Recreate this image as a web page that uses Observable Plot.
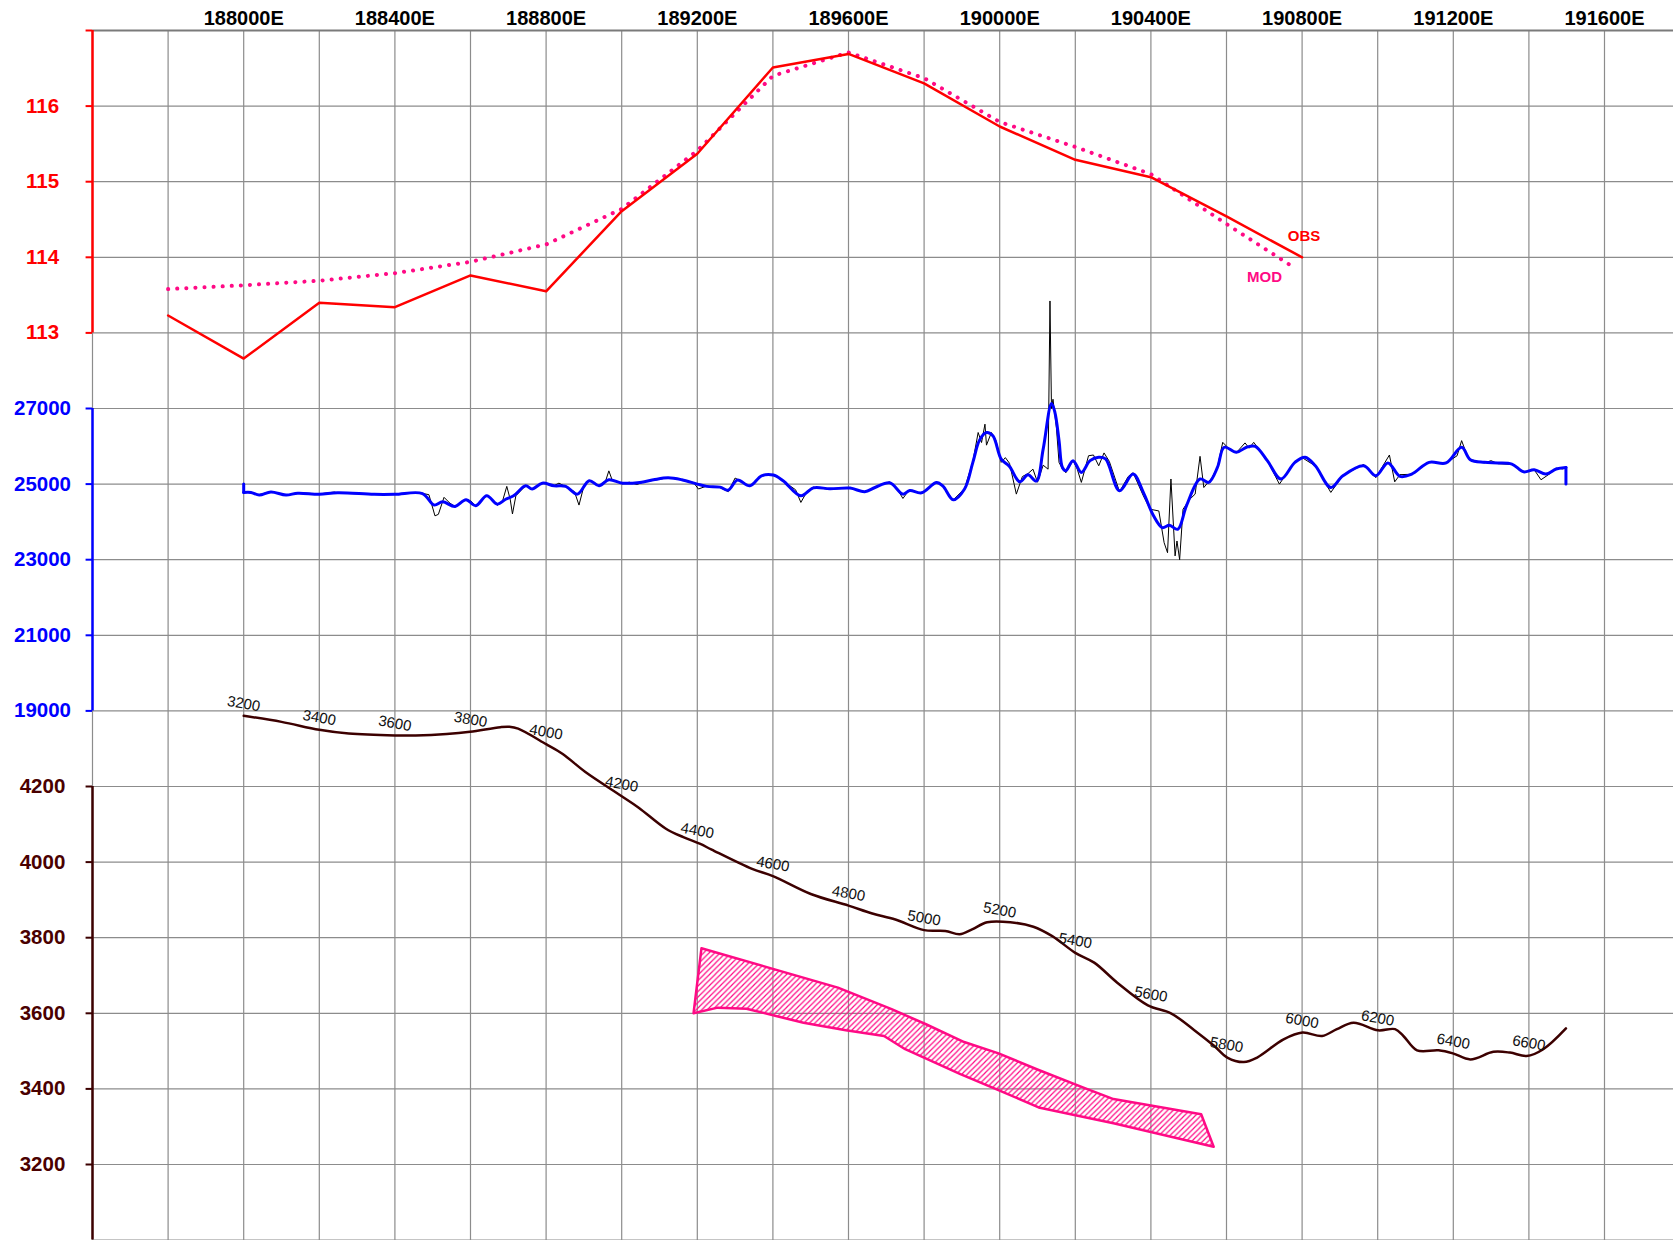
<!DOCTYPE html>
<html>
<head>
<meta charset="utf-8">
<script src="https://cdn.jsdelivr.net/npm/d3@7"></script>
<script src="https://cdn.jsdelivr.net/npm/@observablehq/plot@0.6"></script>
<style>
  html, body { margin: 0; padding: 0; background: #ffffff; }
  #chart svg { display: block; }
</style>
</head>
<body>
<div id="chart"></div>
<script>
// ---------------- DATA ----------------
// Easting grid / tick labels
const eastGrid = [187600, 187800, 188000, 188200, 188400, 188600, 188800, 189000, 189200, 189400,
                  189600, 189800, 190000, 190200, 190400, 190600, 190800, 191000, 191200, 191400, 191600];
const eastLabels = [188000, 188400, 188800, 189200, 189600, 190000, 190400, 190800, 191200, 191600];

// Left axis ticks (three stacked axes)
const gravTicks = [117, 116, 115, 114, 113];
const gravLabels = [116, 115, 114, 113];
const magTicks = [27000, 25000, 23000, 21000, 19000];
const elevTicks = [4200, 4000, 3800, 3600, 3400, 3200];
const elevGridExtra = [3000];

// Gravity profile (mGal): observed and modelled
const gravEast = [187800, 188000, 188200, 188400, 188600, 188800, 189000, 189200, 189400, 189600,
                  189800, 190000, 190200, 190400, 190600, 190800];
const gravObs = [113.23, 112.66, 113.40, 113.34, 113.76, 113.55, 114.61, 115.37, 116.51, 116.69,
                 116.30, 115.73, 115.29, 115.06, 114.54, 114.00];
const modEast = [187800, 188000, 188200, 188400, 188600, 188800, 189000, 189200, 189400, 189600,
                 189800, 190000, 190200, 190400, 190600, 190780];
const gravMod = [113.58, 113.63, 113.69, 113.79, 113.94, 114.17, 114.64, 115.41, 116.40, 116.71,
                 116.37, 115.79, 115.46, 115.10, 114.44, 113.86];

// Magnetic profile (nT): smoothed (blue); first and last points are the end ticks
const magEast = [188000, 188000, 188019, 188041, 188072, 188112, 188143, 188200, 188248, 188345,
  188400, 188473, 188504, 188526, 188559, 188588, 188614, 188643, 188671, 188693,
  188714, 188746, 188763, 188790, 188821, 188852, 188883, 188914, 188940, 188966,
  189002, 189048, 189084, 189123, 189159, 189200, 189225, 189260, 189282, 189306,
  189339, 189370, 189401, 189427, 189474, 189507, 189551, 189604, 189643, 189670,
  189709, 189744, 189762, 189793, 189833, 189850, 189877, 189907, 189929, 189947,
  189965, 189982, 190004, 190026, 190053, 190075, 190097, 190115, 190137, 190146,
  190157, 190166, 190175, 190194, 190216, 190239, 190262, 190280, 190317, 190353,
  190380, 190407, 190430, 190449, 190471, 190494, 190530, 190553, 190576, 190594,
  190626, 190653, 190676, 190708, 190744, 190781, 190808, 190835, 190876, 190908,
  190963, 190995, 191027, 191059, 191090, 191136, 191181, 191222, 191245, 191282,
  191318, 191355, 191386, 191414, 191445, 191472, 191498, 191498];
const magSmooth = [25000, 24780, 24780, 24710, 24790, 24710, 24760, 24730, 24770, 24730,
  24730, 24750, 24445, 24530, 24410, 24585, 24430, 24690, 24470, 24600,
  24690, 24955, 24870, 25025, 24955, 24940, 24735, 25090, 24955, 25115,
  25025, 25045, 25115, 25167, 25115, 25000, 24940, 24920, 24840, 25105,
  24955, 25220, 25240, 25090, 24690, 24900, 24875, 24895, 24800, 24910,
  25035, 24735, 24830, 24770, 25045, 24945, 24585, 24870, 25575, 26170,
  26365, 26280, 25660, 25465, 25060, 25245, 25080, 25925, 27130, 26900,
  26150, 25440, 25355, 25620, 25310, 25620, 25710, 25665, 24825, 25265,
  24780, 24160, 23850, 23910, 23805, 24425, 25135, 25045, 25440, 25975,
  25840, 25975, 26000, 25620, 25135, 25575, 25710, 25485, 24910, 25220,
  25485, 25220, 25560, 25205, 25265, 25575, 25560, 25975, 25645, 25575,
  25560, 25530, 25325, 25380, 25265, 25400, 25440, 25000];

// Magnetic profile (nT): raw readings (thin black)
const magRawEast = [188000, 188020, 188040, 188072, 188110, 188145, 188200, 188240, 188250, 188345,
  188400, 188470, 188490, 188506, 188515, 188530, 188545, 188560, 188588, 188600,
  188614, 188643, 188660, 188671, 188685, 188696, 188705, 188711, 188720, 188746,
  188763, 188790, 188821, 188834, 188852, 188875, 188887, 188900, 188914, 188940,
  188958, 188966, 188975, 189002, 189020, 189040, 189060, 189084, 189123, 189159,
  189190, 189203, 189225, 189260, 189282, 189300, 189315, 189339, 189370, 189401,
  189427, 189460, 189474, 189490, 189507, 189551, 189604, 189643, 189670, 189709,
  189730, 189744, 189760, 189793, 189833, 189850, 189877, 189907, 189929, 189943,
  189952, 189961, 189965, 189978, 189990, 190004, 190015, 190026, 190044, 190060,
  190075, 190088, 190100, 190115, 190128, 190133, 190137, 190141, 190150, 190157,
  190166, 190175, 190194, 190205, 190216, 190235, 190248, 190262, 190276, 190290,
  190317, 190340, 190353, 190380, 190398, 190421, 190435, 190444, 190453, 190464,
  190469, 190476, 190485, 190503, 190517, 190530, 190540, 190562, 190576, 190590,
  190610, 190626, 190649, 190660, 190672, 190708, 190740, 190781, 190800, 190835,
  190876, 190908, 190940, 190963, 190995, 191031, 191045, 191059, 191090, 191136,
  191181, 191210, 191222, 191235, 191245, 191282, 191300, 191318, 191355, 191386,
  191414, 191432, 191454, 191472, 191490];
const magRaw = [24790, 24770, 24720, 24800, 24700, 24770, 24740, 24790, 24760, 24730,
  24740, 24760, 24720, 24160, 24200, 24650, 24500, 24400, 24600, 24560,
  24420, 24700, 24560, 24440, 24560, 24940, 24600, 24210, 24690, 24960,
  24860, 25030, 24960, 25025, 24930, 24800, 24445, 24950, 25100, 24950,
  25100, 25350, 25100, 25010, 25050, 24990, 25060, 25100, 25170, 25110,
  25040, 24870, 24950, 24910, 24800, 25160, 25080, 24940, 25220, 25250,
  25080, 24850, 24515, 24800, 24920, 24860, 24900, 24790, 24920, 25060,
  24850, 24620, 24840, 24750, 25060, 24930, 24580, 24880, 25600, 26365,
  26100, 26585, 26030, 26365, 26150, 25575, 25700, 25550, 24735, 25200,
  25280, 25395, 25050, 25500, 25395, 29845, 27000, 27245, 26500, 25575,
  25400, 25300, 25620, 25400, 25045, 25750, 25770, 25485, 25825, 25600,
  24800, 25200, 25300, 24690, 24335, 24290, 23450, 23185, 25135, 23100,
  23495, 23000, 24335, 24600, 24735, 25735, 24910, 25175, 25450, 26105,
  25900, 25830, 26090, 25950, 26105, 25620, 25000, 25600, 25700, 25480,
  24780, 25230, 25400, 25520, 25170, 25770, 25060, 25250, 25260, 25580,
  25560, 25750, 26150, 25800, 25650, 25560, 25620, 25540, 25520, 25320,
  25380, 25115, 25265, 25420, 25400];

// Topography (m)
const elevEast = [188000, 188100, 188200, 188278, 188400, 188455, 188537, 188599, 188679, 188703,
  188726, 188800, 188844, 188903, 188999, 189045, 189116, 189163, 189208, 189238,
  189345, 189400, 189502, 189600, 189663, 189724, 189800, 189856, 189894, 189927,
  189967, 190028, 190089, 190139, 190200, 190250, 190311, 190392, 190453, 190514,
  190567, 190602, 190646, 190681, 190751, 190801, 190853, 190892, 190936, 191001,
  191046, 191068, 191104, 191161, 191199, 191245, 191306, 191350, 191394, 191438, 191498];
const elevVal = [4387, 4371, 4350, 4340, 4335, 4335, 4339, 4345, 4357, 4358,
  4353, 4312, 4286, 4239, 4175, 4144, 4089, 4066, 4048, 4033,
  3982, 3963, 3915, 3885, 3864, 3848, 3820, 3818, 3809, 3822,
  3841, 3841, 3829, 3804, 3760, 3734, 3681, 3621, 3600, 3556,
  3514, 3483, 3471, 3483, 3531, 3549, 3540, 3558, 3575, 3555,
  3558, 3540, 3502, 3502, 3494, 3478, 3498, 3496, 3487, 3505, 3560];

// Chainage labels along the profile
const chainEast = [188000, 188200, 188400, 188600, 188800, 189000, 189200, 189400, 189600,
  189800, 190000, 190200, 190400, 190600, 190800, 191000, 191200, 191400];
const chainLabels = [3200, 3400, 3600, 3800, 4000, 4200, 4400, 4600, 4800,
  5000, 5200, 5400, 5600, 5800, 6000, 6200, 6400, 6600];

// Model body polygon (easting, elevation)
const bodyEast = [189211, 189572, 189714, 189805, 189906, 189997, 190098, 190220, 190301, 190533,
  190566, 190301, 190103, 189992, 189896, 189750, 189694, 189593, 189481, 189330, 189254, 189190];
const bodyElev = [3772, 3668, 3611, 3571, 3524, 3494, 3452, 3404, 3373, 3333,
  3247, 3309, 3351, 3399, 3439, 3505, 3540, 3555, 3575, 3612, 3615, 3600];

// ---------------- STYLE ----------------
const RED = "#FF0000", PINK = "#FF0A85", BLUE = "#0000FF", BROWN = "#3C0000", GRID = "#8c8c8c";
const FONT = "'Liberation Sans', Arial, Helvetica, sans-serif";

// stacked-axis conversion into common grid units (one unit = one grid row)
const gU = g => 117 - g;
const mU = m => 5 + (27000 - m) / 2000;
const eU = e => 10 + (4200 - e) / 200;

const idx = a => a.map((_, i) => i);
const elevAt = x => {
  const i = Math.max(0, Math.min(elevEast.length - 2, d3.bisectRight(elevEast, x) - 1));
  const t = (x - elevEast[i]) / (elevEast[i + 1] - elevEast[i]);
  return elevVal[i] + t * (elevVal[i + 1] - elevVal[i]);
};

const nMag = magEast.length;
const magBody = idx(magEast).slice(1, nMag - 1);   // smooth part
const magEnds = [[0, 1], [nMag - 2, nMag - 1]];    // straight end ticks

const X0 = 187600, X1 = 187600 + (1673 - 92) / 0.378;
const gridUnits = [...gravTicks.map(gU), ...magTicks.map(mU), ...elevTicks.map(eU), ...elevGridExtra.map(eU)];

const chart = Plot.plot({
  width: 1673,
  height: 1240,
  marginLeft: 92,
  marginRight: 0,
  marginTop: 30,
  marginBottom: 0,
  style: {fontFamily: FONT, background: "#fff", overflow: "visible"},
  x: {domain: [X0, X1], range: [92, 1673], axis: null},
  y: {domain: [0, 16], range: [30, 1239.6], axis: null},
  marks: [
    // grid
    Plot.ruleY(gridUnits, {stroke: GRID, strokeWidth: 1.2}),
    Plot.ruleX(eastGrid, {stroke: GRID, strokeWidth: 1.2}),
    Plot.ruleY([0], {stroke: "#7a7a7a", strokeWidth: 2}),

    // model body
    Plot.line(idx(bodyEast), {x: i => bodyEast[i], y: i => eU(bodyElev[i]), curve: "linear-closed",
      stroke: PINK, strokeWidth: 2.5, fill: "url(#hatch)", strokeLinejoin: "round"}),

    // topography
    Plot.line(idx(elevEast), {x: i => elevEast[i], y: i => eU(elevVal[i]), curve: "catmull-rom",
      stroke: BROWN, strokeWidth: 2.5}),
    Plot.text(idx(chainEast), {x: i => chainEast[i], y: i => eU(elevAt(chainEast[i])), text: i => String(chainLabels[i]),
      dy: -12, rotate: 10, fontSize: 15, fill: "#111"}),

    // magnetics
    Plot.line(idx(magRawEast), {x: i => magRawEast[i], y: i => mU(magRaw[i]), stroke: "#000", strokeWidth: 1}),
    Plot.line(magBody, {x: i => magEast[i], y: i => mU(magSmooth[i]), curve: "catmull-rom",
      stroke: BLUE, strokeWidth: 3}),
    ...magEnds.map(pair => Plot.line(pair, {x: i => magEast[i], y: i => mU(magSmooth[i]),
      stroke: BLUE, strokeWidth: 3})),

    // gravity
    Plot.line(idx(modEast), {x: i => modEast[i], y: i => gU(gravMod[i]), stroke: PINK, strokeWidth: 4,
      strokeDasharray: "0.1 9", strokeLinecap: "round"}),
    Plot.line(idx(gravEast), {x: i => gravEast[i], y: i => gU(gravObs[i]), stroke: RED, strokeWidth: 2.5}),
    Plot.text([gravEast.length - 1], {x: i => gravEast[i], y: i => gU(gravObs[i]), text: () => "OBS",
      dx: 2, dy: -21, fill: RED, fontWeight: "bold", fontSize: 15}),
    Plot.text([modEast.length - 1], {x: i => modEast[i], y: i => gU(gravMod[i]), text: () => "MOD",
      dx: -30, dy: 9, fill: PINK, fontWeight: "bold", fontSize: 15}),

    // left stacked axes: segments
    Plot.ruleX([X0], {y1: gU(gravTicks[0]), y2: gU(gravTicks[gravTicks.length - 1]), stroke: RED, strokeWidth: 2.5}),
    Plot.ruleX([X0], {y1: mU(magTicks[0]), y2: mU(magTicks[magTicks.length - 1]), stroke: BLUE, strokeWidth: 2.5}),
    Plot.ruleX([X0], {y1: eU(elevTicks[0]), y2: 16, stroke: BROWN, strokeWidth: 2.5}),
    // tick marks
    Plot.ruleY(gravTicks, {y: gU, x1: X0 - 17, x2: X0, stroke: RED, strokeWidth: 2}),
    Plot.ruleY(magTicks, {y: mU, x1: X0 - 17, x2: X0, stroke: BLUE, strokeWidth: 2}),
    Plot.ruleY(elevTicks, {y: eU, x1: X0 - 17, x2: X0, stroke: BROWN, strokeWidth: 2}),
    // tick labels
    Plot.text(gravLabels, {y: gU, frameAnchor: "left", dx: -50, text: d => String(d), textAnchor: "middle",
      fill: RED, fontWeight: "bold", fontSize: 20.5}),
    Plot.text(magTicks, {y: mU, frameAnchor: "left", dx: -50, text: d => String(d), textAnchor: "middle",
      fill: BLUE, fontWeight: "bold", fontSize: 20.5}),
    Plot.text(elevTicks, {y: eU, frameAnchor: "left", dx: -50, text: d => String(d), textAnchor: "middle",
      fill: "#4a0000", fontWeight: "bold", fontSize: 20.5}),

    // top easting labels
    Plot.text(eastLabels, {x: d => d, frameAnchor: "top", dy: -20, text: d => `${d}E`,
      fill: "#000", fontWeight: "bold", fontSize: 20})
  ]
});

// hatch pattern for the model body
const defs = d3.select(chart).insert("defs", ":first-child");
const pat = defs.append("pattern").attr("id", "hatch").attr("patternUnits", "userSpaceOnUse")
  .attr("width", 5.5).attr("height", 5.5);
pat.append("path").attr("d", "M-1,1 L1,-1 M0,5.5 L5.5,0 M4.5,6.5 L6.5,4.5")
  .attr("stroke", PINK).attr("stroke-width", 1.2).attr("fill", "none");

document.getElementById("chart").appendChild(chart);
</script>
</body>
</html>
